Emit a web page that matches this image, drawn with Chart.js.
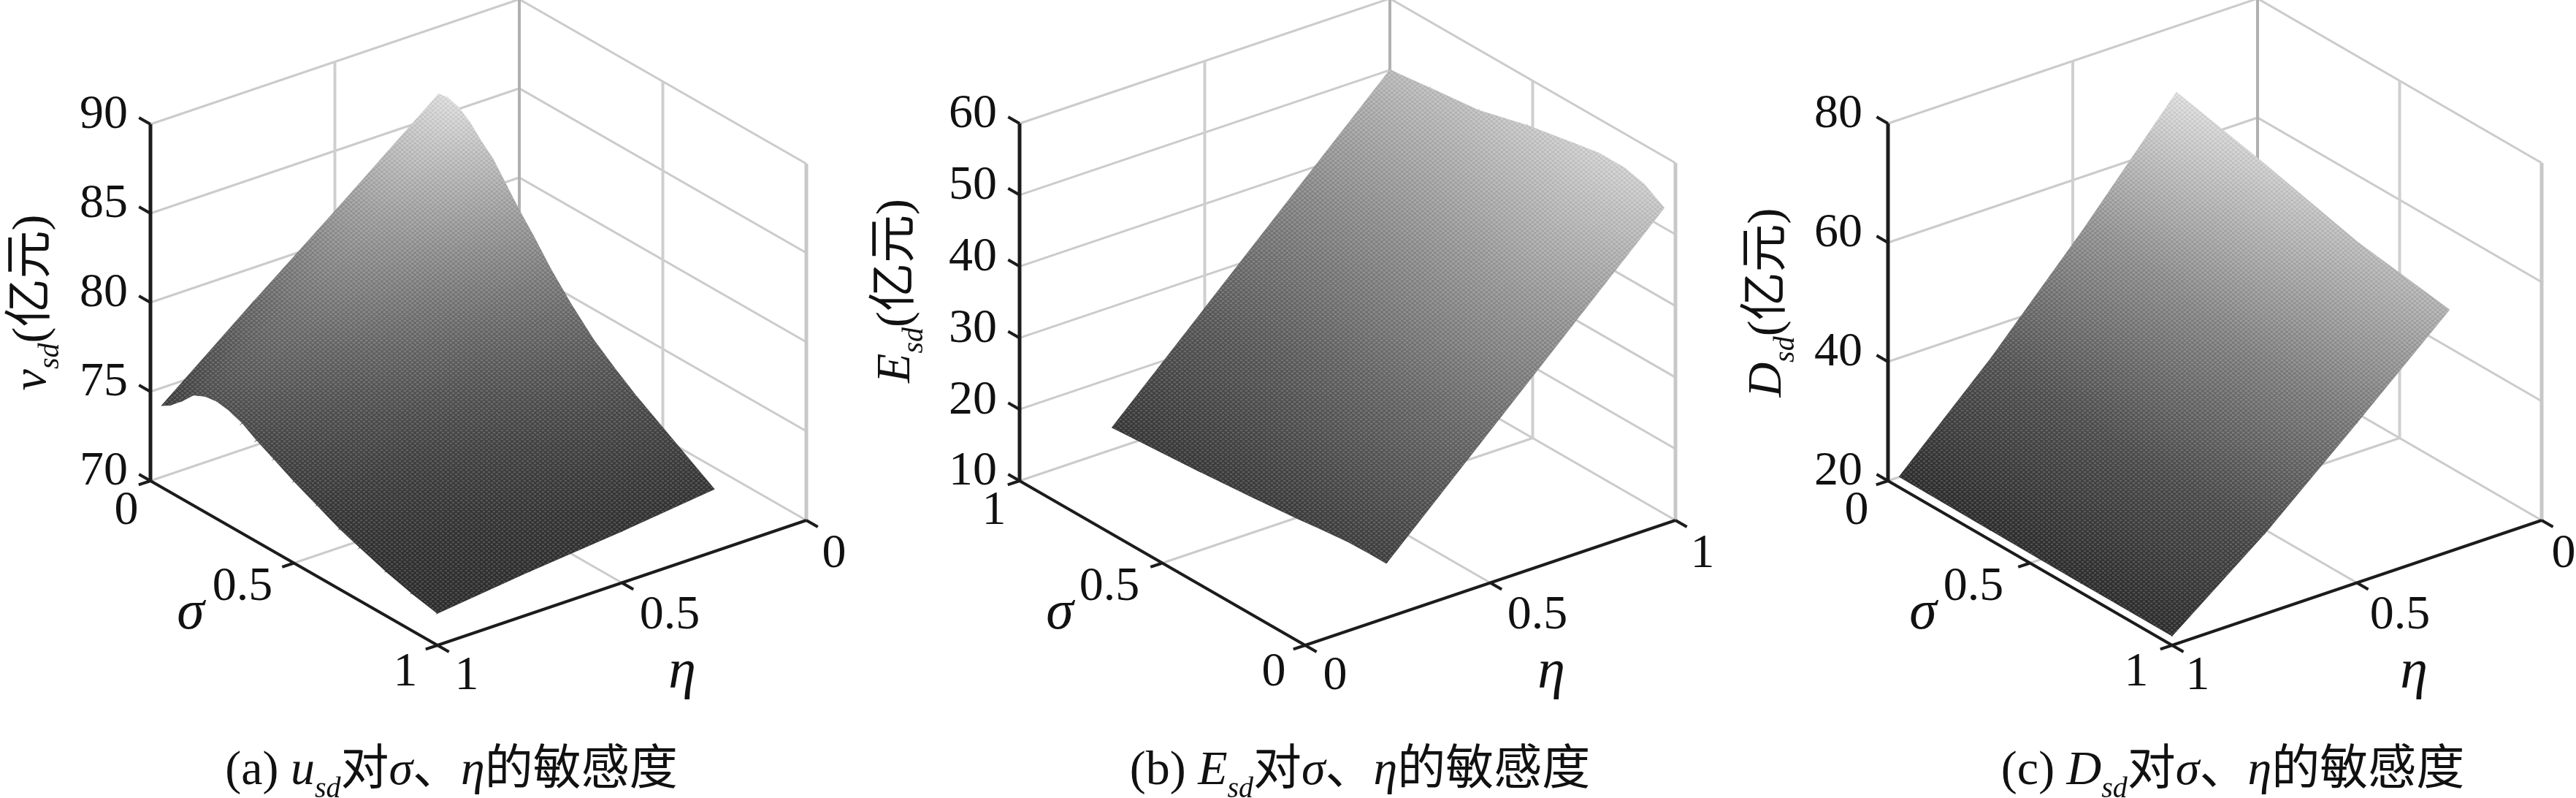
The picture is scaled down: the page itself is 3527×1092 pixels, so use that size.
<!DOCTYPE html>
<html>
<head>
<meta charset="utf-8">
<title>敏感度</title>
<script src="https://cdn.jsdelivr.net/npm/chart.js@4"></script>
<style>
    html, body { margin: 0; padding: 0; background: #fff; }
    body { position: relative; width: 3527px; height: 1092px; overflow: hidden; }
    canvas { position: absolute; top: 0; }
</style>
</head>
<body>
<script>
// values. rows follow etaValues, columns follow the sigma list of each panel
const etaValues = [0.25, 0.5, 0.75, 1];

const sigmaA = [0.04, 0.07, 0.11, 0.15, 0.19, 0.23, 0.27, 0.32, 0.37, 0.43, 0.5, 0.58, 0.66, 0.73, 0.82, 0.91, 1];
const surfaceA = [
    [86.8, 86.9, 86.7, 86.2, 85.5, 84.9, 84.0, 82.9, 81.9, 80.6, 79.3, 78.0, 77.0, 76.2, 75.3, 74.4, 73.5],
    [82.7, 82.9, 83.0, 82.9, 82.5, 82.1, 81.5, 80.7, 79.8, 78.8, 77.7, 76.7, 75.8, 75.1, 74.4, 73.6, 72.9],
    [78.7, 78.9, 79.2, 79.5, 79.5, 79.4, 79.0, 78.4, 77.8, 77.0, 76.2, 75.3, 74.6, 74.1, 73.4, 72.9, 72.4],
    [74.6, 74.9, 75.5, 76.2, 76.5, 76.6, 76.5, 76.2, 75.7, 75.2, 74.6, 74.0, 73.4, 73.0, 72.5, 72.1, 71.8]
];

const sigmaB = [0.04, 0.11, 0.18, 0.27, 0.35, 0.52, 0.69, 0.86, 1];
const surfaceB = [
    [16.2, 16.2, 16.1, 15.7, 15.3, 14.6, 14.0, 13.5, 13.1],
    [28.4, 29.0, 29.1, 28.9, 28.4, 27.5, 26.5, 25.9, 25.4],
    [40.6, 41.7, 42.2, 42.0, 41.5, 40.4, 39.0, 38.3, 37.7],
    [52.8, 54.5, 55.2, 55.2, 54.6, 53.3, 51.5, 50.7, 50.0]
];

const sigmaC = [0.04, 0.36, 0.68, 1];
const surfaceC = [
    [70.6, 67.0, 63.0, 60.6],
    [53.0, 51.2, 49.0, 46.9],
    [36.6, 35.6, 34.5, 33.5],
    [21.8, 21.7, 21.6, 21.6]
];

const zTicksA = [70, 75, 80, 85, 90];
const zTicksB = [10, 20, 30, 40, 50, 60];
const zTicksC = [20, 40, 60, 80];
const floorTicks = [0, 0.5, 1];
const floorTickLabels = ['0', '0.5', '1'];

const serif = '"Liberation Serif", "Noto Sans CJK SC", serif';
const gridColor = '#cbcbcb';
const axisColor = '#1c1c1c';
const textColor = '#111111';

// box corners and label spots of each panel
const panels = [
    {
        id: 'a', left: 0, width: 1180, flip: true,
        front: [599, 883], leftCorner: [206, 658], rightCorner: [1104, 712], boxHeight: 488,
        sigma: sigmaA, surface: surfaceA, zTicks: zTicksA,
        grayRange: [71.8, 87, 48, 222, 1.4],
        zLabelRight: 175,
        sigmaLabels: [[173, 700], [332, 804], [555, 921]],
        etaLabels: [[1142, 759], [917, 843], [639, 926]],
        sigmaTitle: [261, 840], etaTitle: [934, 921],
        yTitle: { x: 62, y: 414, runs: [['v', 'i'], ['sd', 's'], ['(亿元)', 'r']] },
        caption: { x: 618, runs: [['(a) ', 'r'], ['u', 'i'], ['sd', 's'], ['对', 'r'], ['σ', 'i'], ['、', 'r'], ['η', 'i'], ['的敏感度', 'r']] }
    },
    {
        id: 'b', left: 1180, width: 1180, flip: false,
        front: [1787, 883], leftCorner: [1396, 658], rightCorner: [2294, 712], boxHeight: 489,
        sigma: sigmaB, surface: surfaceB, zTicks: zTicksB,
        grayRange: [13, 55.2, 58, 208, 1.2],
        zLabelRight: 1365,
        sigmaLabels: [[1744, 921], [1519, 804], [1361, 700]],
        etaLabels: [[1828, 926], [2105, 843], [2331, 759]],
        sigmaTitle: [1451, 840], etaTitle: [2124, 921],
        yTitle: { x: 1245, y: 398, runs: [['E', 'i'], ['sd', 's'], ['(亿元)', 'r']] },
        caption: { x: 1862, runs: [['(b) ', 'r'], ['E', 'i'], ['sd', 's'], ['对', 'r'], ['σ', 'i'], ['、', 'r'], ['η', 'i'], ['的敏感度', 'r']] }
    },
    {
        id: 'c', left: 2360, width: 1167, flip: true,
        front: [2974, 883], leftCorner: [2585, 658], rightCorner: [3480, 712], boxHeight: 489,
        sigma: sigmaC, surface: surfaceC, zTicks: zTicksC,
        grayRange: [21.6, 70.6, 48, 222, 1.3],
        zLabelRight: 2550,
        sigmaLabels: [[2542, 700], [2702, 804], [2925, 921]],
        etaLabels: [[3510, 759], [3286, 843], [3009, 926]],
        sigmaTitle: [2633, 840], etaTitle: [3305, 921],
        yTitle: { x: 2438, y: 414, runs: [['D', 'i'], ['sd', 's'], ['(亿元)', 'r']] },
        caption: { x: 3057, runs: [['(c) ', 'r'], ['D', 'i'], ['sd', 's'], ['对', 'r'], ['σ', 'i'], ['、', 'r'], ['η', 'i'], ['的敏感度', 'r']] }
    }
];

// oblique projection of the 3d box: u runs front->left corner, v runs front->right corner
function projector(p) {
    const zMin = p.zTicks[0];
    const zPx = p.boxHeight / (p.zTicks[p.zTicks.length - 1] - zMin);
    return function (u, v, z) {
        return {
            x: p.front[0] + u * (p.leftCorner[0] - p.front[0]) + v * (p.rightCorner[0] - p.front[0]),
            y: p.front[1] + u * (p.leftCorner[1] - p.front[1]) + v * (p.rightCorner[1] - p.front[1]) - (z - zMin) * zPx
        };
    };
}

function lineMark(points, color, width) {
    return {
        data: points, showLine: true, tension: 0, pointRadius: 0,
        borderColor: color, borderWidth: width, borderCapStyle: 'butt', fill: false
    };
}

function grayOf(p, z) {
    const [zLo, zHi, gLo, gHi, gamma] = p.grayRange;
    const t = Math.max(0, Math.min(1, (z - zLo) / (zHi - zLo)));
    return gLo + (gHi - gLo) * Math.pow(t, gamma);
}

// a triangle with a gray value per corner is exactly one linear gradient
function triangleGradient(chart, tri) {
    const sx = chart.scales.x, sy = chart.scales.y;
    const pts = tri.points.map(pt => [sx.getPixelForValue(pt.x), sy.getPixelForValue(pt.y)]);
    const g = tri.grays;
    const x1 = pts[1][0] - pts[0][0], y1 = pts[1][1] - pts[0][1];
    const x2 = pts[2][0] - pts[0][0], y2 = pts[2][1] - pts[0][1];
    const dg1 = g[1] - g[0], dg2 = g[2] - g[0];
    const det = x1 * y2 - x2 * y1;
    const a = (dg1 * y2 - dg2 * y1) / det;
    const b = (x1 * dg2 - x2 * dg1) / det;
    const len2 = a * a + b * b;
    const gMin = Math.min(...g), gMax = Math.max(...g);
    const toGray = v => { const n = Math.round(v); return 'rgb(' + n + ',' + n + ',' + n + ')'; };
    if (!isFinite(len2) || len2 < 1e-9 || gMax - gMin < 0.01) return toGray(g[0]);
    const grad = chart.ctx.createLinearGradient(
        pts[0][0] + (gMin - g[0]) * a / len2, pts[0][1] + (gMin - g[0]) * b / len2,
        pts[0][0] + (gMax - g[0]) * a / len2, pts[0][1] + (gMax - g[0]) * b / len2
    );
    grad.addColorStop(0, toGray(gMin));
    grad.addColorStop(1, toGray(gMax));
    return grad;
}

function triangleMark(tri) {
    return {
        data: [tri.points[0], tri.points[1], tri.points[2], tri.points[0]],
        showLine: true, tension: 0, pointRadius: 0, fill: 'shape',
        borderWidth: 1.2, tri: tri
    };
}

// gradients need the laid out scales, so they are filled in just before the datasets update
const surfacePaint = {
    id: 'surfacePaint',
    beforeDatasetsUpdate(chart) {
        chart.data.datasets.forEach(ds => {
            if (!ds.tri) return;
            const paint = triangleGradient(chart, ds.tri);
            ds.backgroundColor = paint;
            ds.borderColor = paint;
        });
    }
};

// the fine mesh texture of the printed surface
function meshPattern() {
    const tile = document.createElement('canvas');
    tile.width = 7;
    tile.height = 6;
    const c = tile.getContext('2d');
    c.fillStyle = 'rgba(255,255,255,0.15)';
    c.fillRect(0, 0, 3, 2);
    c.fillRect(3, 3, 3, 2);
    c.fillStyle = 'rgba(0,0,0,0.06)';
    c.fillRect(3, 0, 3, 2);
    c.fillRect(0, 3, 3, 2);
    return document.createElement('canvas').getContext('2d').createPattern(tile, 'repeat');
}

function buildMarks(p) {
    const at = projector(p);
    const toU = s => p.flip ? 1 - s : s;
    const toV = e => p.flip ? 1 - e : e;
    const zMin = p.zTicks[0], zTop = p.zTicks[p.zTicks.length - 1];
    const marks = [];
    const tickLen = 0.04;

    // walls and floor of the box
    p.zTicks.forEach(z => {
        marks.push(lineMark([at(1, 0, z), at(1, 1, z), at(0, 1, z)], gridColor, 3));
    });
    marks.push(lineMark([at(1, 0.5, zMin), at(1, 0.5, zTop)], '#cfcfcf', 4));
    marks.push(lineMark([at(0.5, 1, zMin), at(0.5, 1, zTop)], '#cfcfcf', 4));
    marks.push(lineMark([at(0.5, 0, zMin), at(0.5, 1, zMin)], gridColor, 3));
    marks.push(lineMark([at(0, 0.5, zMin), at(1, 0.5, zMin)], gridColor, 3));
    marks.push(lineMark([at(1, 1, zMin), at(1, 1, zTop)], '#b0b0b0', 4));
    marks.push(lineMark([at(0, 1, zMin), at(0, 1, zTop)], '#c8c8c8', 5));

    // surface cells, back to front
    const cells = [];
    for (let r = 0; r < etaValues.length - 1; r++) {
        for (let c = 0; c < p.sigma.length - 1; c++) {
            cells.push({ r, c, depth: toU(p.sigma[c]) + toU(p.sigma[c + 1]) + toV(etaValues[r]) + toV(etaValues[r + 1]) });
        }
    }
    cells.sort((m, n) => n.depth - m.depth);
    const node = (r, c) => ({
        pt: at(toU(p.sigma[c]), toV(etaValues[r]), p.surface[r][c]),
        gray: grayOf(p, p.surface[r][c])
    });
    cells.forEach(({ r, c }) => {
        const n00 = node(r, c), n01 = node(r, c + 1), n10 = node(r + 1, c), n11 = node(r + 1, c + 1);
        [[n00, n01, n11], [n00, n11, n10]].forEach(t => {
            marks.push(triangleMark({ points: t.map(n => n.pt), grays: t.map(n => n.gray) }));
        });
    });

    // outline filled with the mesh texture
    const last = p.sigma.length - 1, lastRow = etaValues.length - 1;
    const outline = [];
    p.sigma.forEach((s, c) => outline.push(node(0, c).pt));
    etaValues.forEach((e, r) => outline.push(node(r, last).pt));
    for (let c = last; c >= 0; c--) outline.push(node(lastRow, c).pt);
    for (let r = lastRow; r >= 0; r--) outline.push(node(r, 0).pt);
    marks.push({
        data: outline, showLine: true, tension: 0, pointRadius: 0, fill: 'shape',
        backgroundColor: meshPattern(), borderWidth: 0, borderColor: 'transparent'
    });

    // the three black axes with their ticks
    marks.push(lineMark([at(1, 0, zTop), at(1, 0, zMin)], axisColor, 5));
    marks.push(lineMark([at(1, 0, zMin), at(0, 0, zMin), at(0, 1, zMin)], axisColor, 4));
    p.zTicks.forEach(z => {
        marks.push(lineMark([at(1, 0, z), at(1 + tickLen, 0, z)], axisColor, 4));
    });
    floorTicks.forEach(t => {
        marks.push(lineMark([at(toU(t), 0, zMin), at(toU(t), -tickLen * 0.8, zMin)], axisColor, 4));
        marks.push(lineMark([at(0, toV(t), zMin), at(-tickLen, toV(t), zMin)], axisColor, 4));
    });
    return marks;
}

// mixed roman / italic / subscript text on one baseline
function runFont(style) {
    if (style === 'i') return 'italic 66px ' + serif;
    if (style === 's') return 'italic 40px ' + serif;
    return '66px ' + serif;
}

function runsWidth(ctx, runs) {
    return runs.reduce((sum, [text, style]) => {
        ctx.font = runFont(style);
        return sum + ctx.measureText(text).width;
    }, 0);
}

function drawRuns(ctx, runs, start) {
    let cur = start;
    runs.forEach(([text, style]) => {
        ctx.font = runFont(style);
        ctx.fillText(text, cur, style === 's' ? 18 : 0);
        cur += ctx.measureText(text).width;
    });
}

const panelText = {
    id: 'panelText',
    afterDraw(chart, args, opts) {
        const p = opts.panel;
        const ctx = chart.ctx;
        const sx = chart.scales.x, sy = chart.scales.y;
        const put = (text, pos, font, align) => {
            ctx.font = font;
            ctx.textAlign = align || 'center';
            ctx.textBaseline = 'middle';
            ctx.fillText(text, sx.getPixelForValue(pos[0]), sy.getPixelForValue(pos[1]));
        };
        const at = projector(p);
        ctx.save();
        ctx.fillStyle = textColor;
        p.zTicks.forEach(z => {
            put(String(z), [p.zLabelRight, at(1, 0, z).y - 12], '66px ' + serif, 'right');
        });
        floorTickLabels.forEach((label, i) => {
            put(label, p.sigmaLabels[i], '66px ' + serif);
            put(label, p.etaLabels[i], '66px ' + serif);
        });
        put('σ', p.sigmaTitle, 'italic 76px ' + serif);
        put('η', p.etaTitle, 'italic 76px ' + serif);

        ctx.textAlign = 'left';
        ctx.textBaseline = 'alphabetic';
        const y = p.yTitle;
        ctx.save();
        ctx.translate(sx.getPixelForValue(y.x), sy.getPixelForValue(y.y));
        ctx.rotate(-Math.PI / 2);
        drawRuns(ctx, y.runs, -runsWidth(ctx, y.runs) / 2);
        ctx.restore();

        ctx.save();
        ctx.translate(sx.getPixelForValue(p.caption.x), sy.getPixelForValue(1073));
        drawRuns(ctx, p.caption.runs, -runsWidth(ctx, p.caption.runs) / 2);
        ctx.restore();
        ctx.restore();
    }
};

panels.forEach(p => {
    const canvas = document.createElement('canvas');
    canvas.id = 'panel-' + p.id;
    canvas.width = p.width;
    canvas.height = 1092;
    canvas.style.left = p.left + 'px';
    canvas.style.width = p.width + 'px';
    canvas.style.height = '1092px';
    document.body.appendChild(canvas);

    new Chart(canvas, {
        type: 'scatter',
        // chart.js paints the first dataset on top, marks are listed back to front
        data: { datasets: buildMarks(p).reverse() },
        options: {
            responsive: false,
            animation: false,
            events: [],
            layout: { padding: 0 },
            scales: {
                x: { type: 'linear', display: false, min: p.left, max: p.left + p.width },
                y: { type: 'linear', display: false, min: 0, max: 1092, reverse: true }
            },
            plugins: {
                legend: { display: false },
                tooltip: { enabled: false },
                panelText: { panel: p }
            }
        },
        plugins: [panelText, surfacePaint]
    });
});
</script>
</body>
</html>
